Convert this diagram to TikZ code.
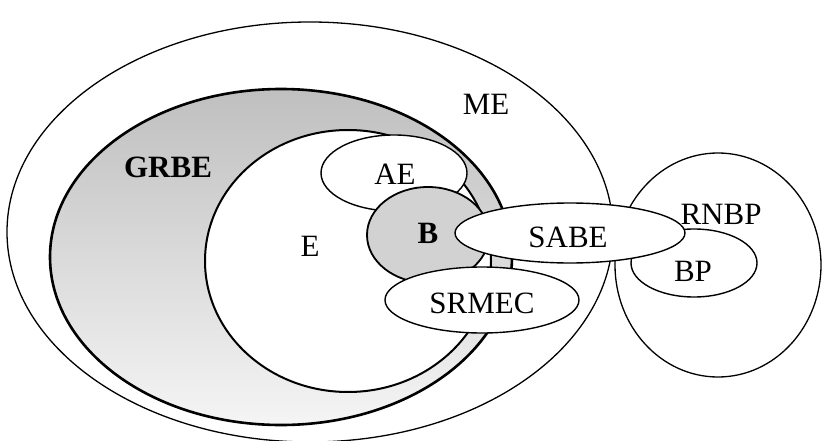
\documentclass[tikz,border=0pt]{standalone}
\usepackage{fontspec}
\setmainfont{Liberation Serif}
\usetikzlibrary{shapes.geometric}
\begin{document}
\begin{tikzpicture}[x=1pt,y=-1pt,
  set/.style={ellipse,draw=black,fill=white,inner sep=0pt,line width=1.4pt},
  lab/.style={font=\fontsize{31}{34}\selectfont,inner sep=0pt},
  blab/.style={lab,font=\fontsize{31}{34}\selectfont\bfseries}]
\clip (0,0) rectangle (822,441);
\fill[white] (0,0) rectangle (822,441);
% outer sets
\node[set,line width=1.3pt,minimum width=606pt,minimum height=420pt] (me) at (310,232) {};
\node[set,line width=1.3pt,minimum width=206pt,minimum height=224pt] (rnbp) at (718,265) {};
\node[set,line width=2.6pt,top color=gray!50,bottom color=gray!8,minimum width=462pt,minimum height=336pt] (grbe) at (281,257) {};
\node[set,line width=2pt,minimum width=286pt,minimum height=262pt] (e) at (348,261) {};
\node[set,minimum width=146pt,minimum height=76pt] (ae) at (394,173) {};
\node[set,line width=1.8pt,fill=gray!35,minimum width=122pt,minimum height=96pt] (b) at (428,235) {};
\node[set,minimum width=194pt,minimum height=66pt] (srmec) at (482,300) {};
\node[set,minimum width=126pt,minimum height=68pt] (bp) at (694,263) {};
\node[set,minimum width=230pt,minimum height=60pt] (sabe) at (570,233) {};
% labels
\node[lab] (lme) at (486,104) {ME};
\node[blab] (lgrbe) at (168,167) {GRBE};
\node[lab] (lae) at (395,174) {AE};
\node[lab] (le) at (310,246) {E};
\node[blab] (lb) at (428,233) {B};
\node[lab] (lsabe) at (568,237) {SABE};
\node[lab] (lsrmec) at (482,303) {SRMEC};
\node[lab] (lrnbp) at (721,214) {RNBP};
\node[lab] (lbp) at (693,271) {BP};
\end{tikzpicture}
\end{document}
